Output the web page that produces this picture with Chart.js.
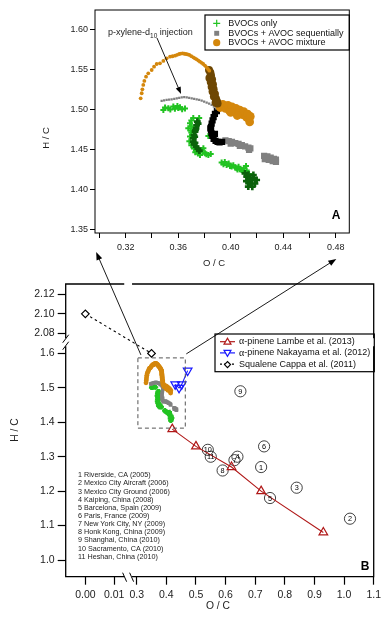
<!DOCTYPE html>
<html>
<head>
<meta charset="utf-8">
<script src="https://cdn.jsdelivr.net/npm/chart.js@4.4.1/dist/chart.umd.min.js"></script>
<style>
  html, body { margin: 0; padding: 0; background: #fff; }
  #wrap { position: relative; width: 385px; height: 619px; }
  #wrap canvas { position: absolute; left: 0; top: 0; }
</style>
</head>
<body>
<div id="wrap">
  <canvas id="chartA" width="385" height="619"></canvas>
  <canvas id="chartB" width="385" height="619"></canvas>
</div>
<script>
const FONT = "'Liberation Sans', Arial, Helvetica, sans-serif";

// ---- Panel A : [O/C, H/C] ----
const bvocOnly = [
  [0.3487, 1.5000], [0.3500, 1.5030], [0.3525, 1.5021], [0.3540, 1.5005], [0.3563, 1.5042],
  [0.3575, 1.5015], [0.3594, 1.5050], [0.3600, 1.5025], [0.3614, 1.5033], [0.3630, 1.5010],
  [0.3652, 1.5017],
  [0.3690, 1.4833], [0.3677, 1.4771], [0.3703, 1.4792], [0.3700, 1.4870], [0.3715, 1.4900],
  [0.3690, 1.4667], [0.3700, 1.4720], [0.3685, 1.4610], [0.3700, 1.4560], [0.3720, 1.4520],
  [0.3740, 1.4480], [0.3766, 1.4438], [0.3779, 1.4500], [0.3792, 1.4521], [0.3805, 1.4458],
  [0.3830, 1.4438], [0.3848, 1.4450], [0.3830, 1.4675], [0.3760, 1.4900], [0.3730, 1.4470],
  [0.3785, 1.4470], [0.3815, 1.4445], [0.3750, 1.4455], [0.3695, 1.4745],
  [0.3931, 1.4342], [0.3945, 1.4320], [0.3955, 1.4350], [0.3969, 1.4313], [0.3985, 1.4330],
  [0.4007, 1.4292], [0.4020, 1.4310], [0.4035, 1.4280], [0.4046, 1.4271], [0.4060, 1.4290],
  [0.4070, 1.4260], [0.4084, 1.4250], [0.4100, 1.4270], [0.4117, 1.4300], [0.4122, 1.4242],
  [0.4140, 1.4200], [0.3995, 1.4300], [0.4052, 1.4255], [0.4092, 1.4235]
];
const bvocOnlyDense = [
  [0.3746, 1.4854], [0.3740, 1.4810], [0.3736, 1.4770], [0.3728, 1.4730], [0.3720, 1.4688],
  [0.3716, 1.4645], [0.3715, 1.4604], [0.3722, 1.4570], [0.3736, 1.4542], [0.3750, 1.4515],
  [0.3761, 1.4492], [0.3752, 1.4830], [0.3732, 1.4750], [0.3726, 1.4665], [0.3728, 1.4590],
  [0.4109, 1.4208], [0.4122, 1.4167], [0.4135, 1.4190], [0.4147, 1.4083], [0.4160, 1.4125],
  [0.4173, 1.4188], [0.4134, 1.4042], [0.4198, 1.4125], [0.4150, 1.4150], [0.4185, 1.4080],
  [0.4120, 1.4110], [0.4165, 1.4040], [0.4140, 1.4120], [0.4175, 1.4150]
];
const avocSeqEarly = [
  [0.3474, 1.5113], [0.3493, 1.5120], [0.3512, 1.5125], [0.3531, 1.5130], [0.3550, 1.5134],
  [0.3570, 1.5140], [0.3589, 1.5146], [0.3608, 1.5152], [0.3627, 1.5158], [0.3646, 1.5160],
  [0.3665, 1.5158], [0.3684, 1.5152], [0.3703, 1.5146], [0.3722, 1.5140], [0.3741, 1.5134],
  [0.3760, 1.5126], [0.3779, 1.5117], [0.3798, 1.5105], [0.3817, 1.5092], [0.3836, 1.5078],
  [0.3855, 1.5063], [0.3872, 1.5042], [0.3888, 1.5021]
];
const avocSeqDense = [
  [0.3895, 1.4985], [0.3880, 1.4950], [0.3870, 1.4910], [0.3862, 1.4870], [0.3855, 1.4830],
  [0.3850, 1.4790], [0.3845, 1.4770], [0.3850, 1.4750], [0.3853, 1.4710], [0.3880, 1.4700],
  [0.3860, 1.4675], [0.3870, 1.4640], [0.3885, 1.4615], [0.3900, 1.4600], [0.3915, 1.4595],
  [0.3935, 1.4600]
];
const avocSeqLate = [
  [0.3960, 1.4620], [0.3985, 1.4610], [0.4000, 1.4580], [0.4010, 1.4600], [0.4035, 1.4585],
  [0.4060, 1.4575], [0.4070, 1.4550], [0.4085, 1.4560], [0.4110, 1.4545], [0.4135, 1.4530],
  [0.4140, 1.4500], [0.4150, 1.4520],
  [0.4255, 1.4425], [0.4280, 1.4420], [0.4305, 1.4405], [0.4330, 1.4390], [0.4345, 1.4380],
  [0.4260, 1.4385], [0.4290, 1.4375], [0.4320, 1.4360], [0.4345, 1.4350]
];
const avocMixEarly = [
  [0.3314, 1.5146], [0.3322, 1.5209], [0.3327, 1.5258], [0.3334, 1.5313], [0.3342, 1.5363],
  [0.3355, 1.5417], [0.3372, 1.5458], [0.3398, 1.5500], [0.3416, 1.5542], [0.3436, 1.5575],
  [0.3461, 1.5583], [0.3487, 1.5613], [0.3512, 1.5646], [0.3538, 1.5667], [0.3557, 1.5672],
  [0.3576, 1.5679], [0.3592, 1.5690], [0.3608, 1.5700], [0.3621, 1.5705], [0.3634, 1.5708],
  [0.3646, 1.5703], [0.3659, 1.5700], [0.3672, 1.5694], [0.3685, 1.5688], [0.3700, 1.5673],
  [0.3715, 1.5658], [0.3728, 1.5645], [0.3741, 1.5633], [0.3754, 1.5618], [0.3766, 1.5604],
  [0.3779, 1.5590], [0.3791, 1.5575], [0.3804, 1.5555], [0.3817, 1.5533], [0.3827, 1.5512],
  [0.3837, 1.5492]
];
const avocMixDense = [
  [0.3835, 1.5500], [0.3845, 1.5470], [0.3850, 1.5430], [0.3838, 1.5400], [0.3858, 1.5380],
  [0.3848, 1.5350], [0.3865, 1.5320], [0.3855, 1.5290], [0.3870, 1.5260], [0.3862, 1.5230],
  [0.3880, 1.5200], [0.3872, 1.5170], [0.3888, 1.5140], [0.3895, 1.5110], [0.3900, 1.5080],
  [0.3885, 1.5095]
];
const avocMixLate = [
  [0.3900, 1.5080], [0.3920, 1.5030], [0.3940, 1.5070], [0.3960, 1.5020], [0.3980, 1.5060],
  [0.3990, 1.4990], [0.4010, 1.5040], [0.4030, 1.4980], [0.4040, 1.5020], [0.4060, 1.4950],
  [0.4070, 1.5000], [0.4090, 1.4940], [0.4100, 1.4980], [0.4120, 1.4910], [0.4130, 1.4950],
  [0.4140, 1.4880], [0.4150, 1.4920], [0.4145, 1.4850], [0.4050, 1.4930], [0.4000, 1.4970]
];

// ---- Panel B : literature and field data ----
const lambeOC = [0.42, 0.50, 0.62, 0.72, 0.93];
const lambeHC = [1.38, 1.33, 1.27, 1.20, 1.08];
const nakayamaOC = [0.43, 0.443, 0.452, 0.472];
const nakayamaHC = [1.51, 1.50, 1.51, 1.55];
const cappaOC = [0.00, 0.35];
const cappaHC = [2.10, 1.60];
const siteNames = [
  'Riverside, CA (2005)', 'Mexico City Aircraft (2006)', 'Mexico City Ground (2006)',
  'Kaiping, China (2008)', 'Barcelona, Spain (2009)', 'Paris, France (2009)',
  'New York City, NY (2009)', 'Honk Kong, China (2009)', 'Shanghai, China (2010)',
  'Sacramento, CA (2010)', 'Heshan, China (2010)'
];
const siteOC = [0.72, 1.02, 0.84, 0.64, 0.75, 0.73, 0.63, 0.59, 0.65, 0.54, 0.55];
const siteHC = [1.27, 1.12, 1.21, 1.30, 1.18, 1.33, 1.29, 1.26, 1.49, 1.32, 1.30];

// ---- tick values ----
const xTicksA = [0.30, 0.32, 0.34, 0.36, 0.38, 0.40, 0.42, 0.44, 0.46, 0.48];
const yTicksA = [1.35, 1.40, 1.45, 1.50, 1.55, 1.60];
const xTicksB = [0.00, 0.01, 0.3, 0.4, 0.5, 0.6, 0.7, 0.8, 0.9, 1.0, 1.1];
const yTicksB = [1.0, 1.1, 1.2, 1.3, 1.4, 1.5, 1.6, 2.08, 2.10, 2.12];

const C = {
  green: '#22c322', dgreen: '#0b620b', gray: '#808080', black: '#000000',
  orange: '#d4870c', brown: '#6e4703', red: '#b01818', blue: '#1a1aff'
};

// linear scale with axis breaks: segments = [vmin, vmax, fracStart, fracEnd]
class BrokenScale extends Chart.LinearScale {
  getPixelForValue(value) {
    const segs = this.options.segments;
    let s = segs[0];
    for (const g of segs) if (value >= g[0]) s = g;
    const f = s[2] + (value - s[0]) / (s[1] - s[0]) * (s[3] - s[2]);
    return this.getPixelForDecimal(f);
  }
  getValueForPixel(pixel) {
    const segs = this.options.segments;
    const f = this.getDecimalForPixel(pixel);
    let s = segs[0];
    for (const g of segs) if (f >= g[2]) s = g;
    return s[0] + (f - s[2]) / (s[3] - s[2]) * (s[1] - s[0]);
  }
}
BrokenScale.id = 'broken';
Chart.register(BrokenScale);

function arrow(ctx, x1, y1, x2, y2, head) {
  const a = Math.atan2(y2 - y1, x2 - x1);
  ctx.beginPath();
  ctx.moveTo(x1, y1);
  ctx.lineTo(x2 - head * 0.8 * Math.cos(a), y2 - head * 0.8 * Math.sin(a));
  ctx.stroke();
  ctx.beginPath();
  ctx.moveTo(x2, y2);
  ctx.lineTo(x2 - head * Math.cos(a) + head * 0.38 * Math.sin(a), y2 - head * Math.sin(a) - head * 0.38 * Math.cos(a));
  ctx.lineTo(x2 - head * Math.cos(a) - head * 0.38 * Math.sin(a), y2 - head * Math.sin(a) + head * 0.38 * Math.cos(a));
  ctx.closePath();
  ctx.fill();
}

function cloud(label, data, color, style, radius, order, bw) {
  return {
    label, data, pointStyle: style, pointRadius: radius, pointHoverRadius: radius,
    backgroundColor: color, borderColor: color,
    borderWidth: style === 'cross' ? (bw || 2) : 0, order
  };
}

// ---------- Panel A ----------
const decorA = {
  id: 'decorA',
  afterDraw(chart) {
    const { ctx, chartArea: a } = chart;
    ctx.save();
    ctx.strokeStyle = '#000';
    ctx.lineWidth = 1;
    ctx.strokeRect(a.left, a.top, a.right - a.left, a.bottom - a.top);

    // legend
    ctx.lineWidth = 1.2;
    ctx.strokeRect(205, 15, a.right - 205, 35);
    const items = [
      ['BVOCs only', C.green, 'cross', 3.5, 23.3],
      ['BVOCs + AVOC sequentially', C.gray, 'rect', 3.5, 33.3],
      ['BVOCs + AVOC mixture', C.orange, 'circle', 3.6, 42.7]
    ];
    ctx.font = '9px ' + FONT;
    ctx.textBaseline = 'middle';
    items.forEach(([t, col, st, r, y]) => {
      ctx.fillStyle = col; ctx.strokeStyle = col;
      Chart.helpers.drawPoint(ctx, { pointStyle: st, radius: r, borderWidth: st === 'cross' ? 2 : 0, rotation: 0 }, 216.7, y);
      ctx.fillStyle = '#111';
      ctx.fillText(t, 228.3, y);
    });

    // injection note
    ctx.fillStyle = '#222';
    ctx.font = '9px ' + FONT;
    ctx.textBaseline = 'alphabetic';
    let x = 108;
    ctx.fillText('p-xylene-d', x, 35);
    x += ctx.measureText('p-xylene-d').width;
    ctx.font = '6.5px ' + FONT;
    ctx.fillText('10', x, 37.5);
    x += ctx.measureText('10').width;
    ctx.font = '9px ' + FONT;
    ctx.fillText(' injection', x, 35);
    ctx.strokeStyle = '#000'; ctx.fillStyle = '#000'; ctx.lineWidth = 0.9;
    arrow(ctx, 157, 38, 181, 94, 7);

    // panel letter
    ctx.font = 'bold 12px ' + FONT;
    ctx.textAlign = 'center';
    ctx.fillText('A', 336, 219);

    // axis titles
    ctx.font = '9.5px ' + FONT;
    ctx.fillStyle = '#222';
    ctx.textBaseline = 'middle';
    ctx.fillText('O / C', 214, 263);
    ctx.translate(46, 138);
    ctx.rotate(-Math.PI / 2);
    ctx.fillText('H / C', 0, 0);
    ctx.restore();
  }
};

const chartA = new Chart(document.getElementById('chartA'), {
  type: 'scatter',
  data: {
    datasets: [
      cloud('BVOCs only', bvocOnly, C.green, 'cross', 3, 5, 2),
      cloud('dense1', bvocOnlyDense, C.dgreen, 'cross', 3.4, 4, 2.6),
      cloud('BVOCs + AVOC sequentially', avocSeqEarly, C.gray, 'rect', 1.6, 3),
      cloud('dense2', avocSeqDense, C.black, 'rect', 4.4, 3),
      cloud('late2', avocSeqLate, C.gray, 'rect', 4.4, 3),
      cloud('BVOCs + AVOC mixture', avocMixEarly, C.orange, 'circle', 1.9, 1),
      cloud('dense3', avocMixDense, C.brown, 'circle', 4, 1),
      cloud('late3', avocMixLate, C.orange, 'circle', 4.3, 2)
    ]
  },
  options: {
    responsive: false,
    animation: false,
    events: [],
    layout: { padding: { left: 55, right: 35.7, top: 10, bottom: 356 } },
    plugins: { legend: { display: false }, tooltip: { enabled: false } },
    scales: {
      x: {
        type: 'linear', min: 0.2966, max: 0.4904,
        afterBuildTicks: s => { s.ticks = xTicksA.map(v => ({ value: v })); },
        afterFit: s => { s.height = 30; },
        border: { display: false },
        grid: { drawOnChartArea: false, drawTicks: true, tickLength: 5, tickColor: '#000' },
        ticks: {
          autoSkip: false, maxRotation: 0, padding: 4, color: '#222',
          font: { family: FONT, size: 9 },
          callback: (v, i) => (i % 2 ? v.toFixed(2) : '')
        }
      },
      y: {
        type: 'linear', min: 1.3462, max: 1.625,
        afterBuildTicks: s => { s.ticks = yTicksA.map(v => ({ value: v })); },
        afterFit: s => { s.width = 40; },
        border: { display: false },
        grid: { drawOnChartArea: false, drawTicks: true, tickLength: 5, tickColor: '#000' },
        ticks: {
          autoSkip: false, padding: 2, color: '#222',
          font: { family: FONT, size: 9 },
          callback: v => v.toFixed(2)
        }
      }
    }
  },
  plugins: [decorA]
});

// ---------- Panel B ----------
const decorB = {
  id: 'decorB',
  afterDraw(chart) {
    const { ctx, chartArea: a } = chart;
    const sx = chart.scales.x, sy = chart.scales.y;
    ctx.save();
    ctx.strokeStyle = '#000';
    ctx.fillStyle = '#000';

    // frame with breaks
    const xb1 = sx.getPixelForDecimal(0.1998) - 3, xb2 = sx.getPixelForDecimal(0.2089) + 2;
    const yb1 = sy.getPixelForDecimal(0.8145), yb2 = sy.getPixelForDecimal(0.7875);
    ctx.lineWidth = 1.3;
    ctx.beginPath();
    ctx.moveTo(a.left, yb1); ctx.lineTo(a.left, a.top); ctx.lineTo(xb1, a.top);
    ctx.moveTo(xb2, a.top); ctx.lineTo(a.right, a.top); ctx.lineTo(a.right, yb1);
    ctx.moveTo(a.right, yb2); ctx.lineTo(a.right, a.bottom); ctx.lineTo(xb2, a.bottom);
    ctx.moveTo(xb1, a.bottom); ctx.lineTo(a.left, a.bottom); ctx.lineTo(a.left, yb2);
    ctx.stroke();
    ctx.lineWidth = 1;
    ctx.beginPath();
    const gy = (yb1 + yb2) / 2;
    [-3.5, 3.5].forEach(d => {
      ctx.moveTo(a.left - 3, gy + d + 4); ctx.lineTo(a.left + 3, gy + d - 4);
    });
    const gx = (xb1 + xb2) / 2;
    [-3.5, 3.5].forEach(d => {
      ctx.moveTo(gx + d - 2, a.bottom - 4); ctx.lineTo(gx + d + 2, a.bottom + 5);
    });
    ctx.stroke();

    // dashed zoom box
    ctx.strokeStyle = '#555';
    ctx.setLineDash([4, 3]);
    const bx1 = sx.getPixelForValue(0.304), bx2 = sx.getPixelForValue(0.464);
    const by1 = sy.getPixelForValue(1.587), by2 = sy.getPixelForValue(1.383);
    ctx.strokeRect(bx1, by1, bx2 - bx1, by2 - by1);
    ctx.setLineDash([]);

    // arrows to panel A
    const ax = chartA.scales.x, aa = chartA.chartArea;
    ctx.strokeStyle = '#000'; ctx.lineWidth = 0.9;
    arrow(ctx, bx1 + 3, by1 - 3, ax.getPixelForValue(0.2975), aa.bottom + 19, 8);
    arrow(ctx, bx2 + 1, by1 - 4, ax.getPixelForValue(0.4805), aa.bottom + 26, 8);

    // site numbers
    ctx.font = '7.3px ' + FONT;
    ctx.textAlign = 'center';
    ctx.textBaseline = 'middle';
    siteOC.forEach((v, i) => {
      ctx.fillText(String(i + 1), sx.getPixelForValue(v), sy.getPixelForValue(siteHC[i]) + 0.5);
    });

    // site list
    ctx.textAlign = 'left';
    ctx.font = '7.2px ' + FONT;
    ctx.fillStyle = '#222';
    siteNames.forEach((n, i) => {
      ctx.fillText((i + 1) + ' ' + n, 78, 475.3 + i * 8.14);
    });

    // legend
    ctx.strokeStyle = '#000'; ctx.lineWidth = 1.2;
    ctx.strokeRect(215, 334, 159.3, 37.7);
    const leg = [
      ['Lambe et al. (2013)', C.red, 'triangle', 0, [], 'α-pinene '],
      ['Nakayama et al. (2012)', C.blue, 'triangle', 180, [], 'α-pinene '],
      ['Squalene Cappa et al. (2011)', C.black, 'rectRot', 0, [2, 2], '']
    ];
    leg.forEach(([t, col, st, rot, dash, pre], i) => {
      const y = 341.7 + i * 11.2;
      ctx.strokeStyle = col; ctx.lineWidth = 1.2;
      ctx.setLineDash(dash);
      ctx.beginPath(); ctx.moveTo(220, y); ctx.lineTo(235, y); ctx.stroke();
      ctx.setLineDash([]);
      ctx.fillStyle = '#fff';
      Chart.helpers.drawPoint(ctx, { pointStyle: st, radius: st === 'rectRot' ? 3 : 4, borderWidth: 1.2, rotation: rot }, 227.5, y + (rot ? -0.5 : 0.5));
      ctx.fillStyle = '#111';
      let x = 239;
      if (pre) {
        ctx.font = '10px "Liberation Serif", serif';
        ctx.fillText('α', x, y);
        x += ctx.measureText('α').width;
        ctx.font = '9px ' + FONT;
        ctx.fillText('-pinene ', x, y);
        x += ctx.measureText('-pinene ').width;
      }
      ctx.font = '9px ' + FONT;
      ctx.fillText(t, x, y);
    });

    // panel letter
    ctx.fillStyle = '#000';
    ctx.font = 'bold 12px ' + FONT;
    ctx.textAlign = 'center';
    ctx.fillText('B', 365, 567);

    // axis titles
    ctx.font = '10.3px ' + FONT;
    ctx.fillStyle = '#222';
    ctx.fillText('O / C', 218, 606);
    ctx.translate(15, 430);
    ctx.rotate(-Math.PI / 2);
    ctx.fillText('H / C', 0, 0);
    ctx.restore();
  }
};

const toXY = (xs, ys) => xs.map((v, i) => ({ x: v, y: ys[i] }));
const allGreen = bvocOnly.concat(bvocOnlyDense);
const allGray = avocSeqEarly.concat(avocSeqDense, avocSeqLate);
const allOrange = avocMixEarly.concat(avocMixDense, avocMixLate);

const chartB = new Chart(document.getElementById('chartB'), {
  type: 'scatter',
  data: {
    datasets: [
      {
        label: 'α-pinene Lambe et al. (2013)', data: toXY(lambeOC, lambeHC), showLine: true,
        borderColor: C.red, borderWidth: 1.1, backgroundColor: 'rgba(255,255,255,0)',
        pointStyle: 'triangle', pointRadius: 5, pointBorderWidth: 1.2, order: 1
      },
      {
        label: 'α-pinene Nakayama et al. (2012)', data: toXY(nakayamaOC, nakayamaHC), showLine: true,
        borderColor: C.blue, borderWidth: 1.1, backgroundColor: 'rgba(255,255,255,0)',
        pointStyle: 'triangle', rotation: 180, pointRadius: 5, pointBorderWidth: 1.2, order: 1
      },
      {
        label: 'Squalene Cappa et al. (2011)', data: toXY(cappaOC, cappaHC), showLine: true,
        borderColor: C.black, borderWidth: 1.1, borderDash: [2.5, 3], backgroundColor: '#fff',
        pointStyle: 'rectRot', pointRadius: 3.8, pointBorderWidth: 1.2, order: 1
      },
      {
        label: 'sites', data: toXY(siteOC, siteHC),
        borderColor: '#111', backgroundColor: 'rgba(255,255,255,0)',
        pointStyle: 'circle', pointRadius: 5.6, pointBorderWidth: 0.8, order: 2
      },
      cloud('mix', allOrange, C.orange, 'circle', 2.4, 3),
      cloud('seq', allGray, C.gray, 'rect', 2.4, 4),
      cloud('bvoc', allGreen, C.green, 'cross', 2.2, 5, 2)
    ]
  },
  options: {
    responsive: false,
    animation: false,
    events: [],
    layout: { padding: { left: 20.7, right: 7, top: 284, bottom: 15.3 } },
    plugins: { legend: { display: false }, tooltip: { enabled: false } },
    scales: {
      x: {
        type: 'broken', min: -0.0068, max: 1.1,
        segments: [[-0.0068, 0.0145, 0, 0.1998], [0.2775, 1.1, 0.2089, 1]],
        afterBuildTicks: s => { s.ticks = xTicksB.map(v => ({ value: v })); },
        afterFit: s => { s.height = 27; },
        border: { display: false },
        grid: { drawOnChartArea: false, drawTicks: true, tickLength: 8, tickColor: '#000', tickWidth: 1.2 },
        ticks: {
          autoSkip: false, maxRotation: 0, padding: 4, color: '#222',
          font: { family: FONT, size: 10.5 },
          callback: v => (v < 0.1 ? v.toFixed(2) : v.toFixed(1))
        }
      },
      y: {
        type: 'broken', min: 0.9515, max: 2.1302,
        segments: [[0.9515, 1.621, 0, 0.7875], [2.0752, 2.1302, 0.8145, 1]],
        afterBuildTicks: s => { s.ticks = yTicksB.map(v => ({ value: v })); },
        afterFit: s => { s.width = 45; },
        border: { display: false },
        grid: { drawOnChartArea: false, drawTicks: true, tickLength: 8, tickColor: '#000', tickWidth: 1.2 },
        ticks: {
          autoSkip: false, padding: 3, color: '#222',
          font: { family: FONT, size: 10.5 },
          callback: v => (v > 2 ? v.toFixed(2) : v.toFixed(1))
        }
      }
    }
  },
  plugins: [decorB]
});
</script>
</body>
</html>
